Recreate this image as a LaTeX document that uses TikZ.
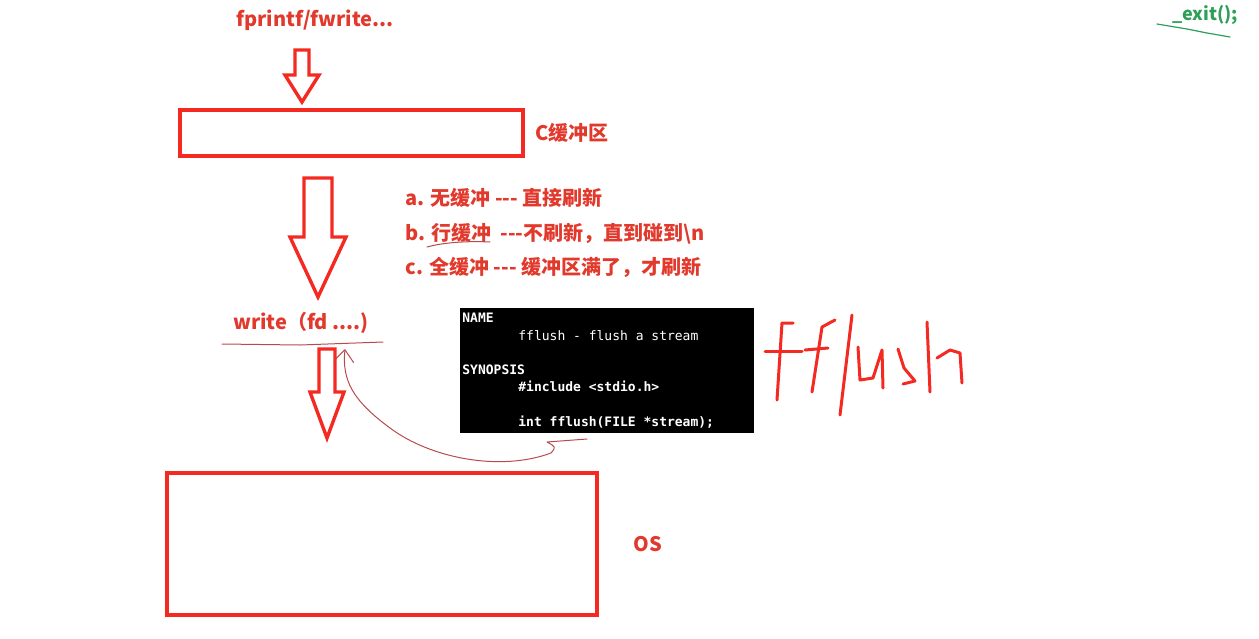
\documentclass[tikz,border=0pt]{standalone}
\usepackage{fontspec}
\setmainfont{Noto Sans CJK SC}
\newfontfamily\manfont{DejaVu Sans Mono}
\usepackage{tikz}
\usetikzlibrary{positioning,arrows.meta}
\definecolor{boxred}{HTML}{F42A22}
\definecolor{txtred}{HTML}{E2392D}
\definecolor{penred}{HTML}{B94A4C}
\definecolor{exitgreen}{HTML}{2E9F58}
\colorlet{scrawlred}{boxred}
\newcommand{\dashes}{-{}-{}-}
\tikzstyle{bufbox} = [
    draw=boxred,
    line width=2pt,
    rectangle,
    inner sep=0pt
    ]
\tikzstyle{lbl} = [
    text=txtred,
    font=\fontsize{10}{12}\selectfont\bfseries,
    inner sep=0pt
    ]
\tikzstyle{termbox} = [
    fill=black,
    rectangle,
    minimum width=147pt,
    minimum height=62.5pt,
    inner sep=0pt
    ]
\tikzstyle{termtext} = [
    text=white,
    font=\manfont\fontsize{6.5}{8.6}\selectfont,
    align=left,
    inner sep=0pt
    ]
\tikzstyle{arrowline} = [draw=boxred, line width=1.7pt, line join=miter]
\tikzstyle{pen} = [draw=penred, line width=0.5pt, line cap=round, line join=round]
\tikzstyle{scrawl} = [draw=scrawlred, line width=1.5pt, line cap=round, line join=round]
\newcommand{\hollowdown}[6]{% x, top, head start, tip, shaft half, head half
\draw[arrowline] (#1-#5,#2) -- (#1+#5,#2) -- (#1+#5,#3) -- (#1+#6,#3)
    -- (#1,#4) -- (#1-#6,#3) -- (#1-#5,#3) -- cycle;}

\begin{document}
\begin{tikzpicture}[x=0.5pt,y=-0.5pt]
\useasboundingbox (0,0) rectangle (1259,638);

\node[lbl] (fwrite) at (315,20) {fprintf/fwrite...};
\hollowdown{302}{50}{75}{102}{7}{17}

\node[bufbox, minimum width=171.5pt, minimum height=23pt] (cbuf) at (351.5,133) {};
\node[lbl, right=5pt of cbuf] (cbuflbl) {C缓冲区};

\hollowdown{318}{178}{237}{297}{14}{28}

\node[lbl, anchor=west] (modea) at (405,198) {a. 无缓冲 \dashes\ 直接刷新};
\node[lbl, anchor=west] (modeb) at (405,234) {b. 行缓冲 \ \dashes 不刷新，直到碰到\textbackslash n};
\node[lbl, anchor=west] (modec) at (405,267) {c. 全缓冲 \dashes\ 缓冲区满了，才刷新};
\draw[pen] (427,247) .. controls (445,242) and (470,241) .. (490,242);

\node[lbl] (write) at (301,323) {write（fd ....)};
\draw[pen] (222,344) -- (300,345) -- (383,342);

\hollowdown{327}{349}{392}{438}{8}{17}

\node[bufbox, minimum width=215pt, minimum height=71pt] (os) at (382,544) {};
\node[lbl, right=17pt of os] (oslbl) {OS};

% man page
\node[termbox] (man) at (607,370.5) {};
\node[termtext, anchor=north west] (mantext) at (462,313) {%
\textbf{NAME}\\
\hspace*{28pt}fflush - flush a stream\\[8.6pt]
\textbf{SYNOPSIS}\\
\hspace*{28pt}\textbf{\#include <stdio.h>}\\[8.6pt]
\hspace*{28pt}\textbf{int fflush(FILE *stream);}};

\coordinate (hookstart) at (587,439);
\coordinate (wrline) at (345,349);
\draw[pen, -{Straight Barb[length=6pt,width=10pt]}] (hookstart) -- (547,442)
    .. controls (556,447) .. (551,453)
    .. controls (500,472) and (430,458) .. (390,428)
    .. controls (352,400) and (342,380) .. (wrline);

% fflush
\draw[scrawl] (793,323) -- (782,323) -- (777,400);
\draw[scrawl] (765,351) -- (802,351);
\draw[scrawl] (835,320) -- (822,327) -- (812,392);
\draw[scrawl] (805,350) -- (828,348);
\draw[scrawl] (852,315) -- (840,415);
\draw[scrawl] (858,347) -- (860,380) -- (873,378) -- (882,350) -- (883,388);
\draw[scrawl] (898,349) -- (904,368) -- (915,381) -- (903,384);
\draw[scrawl] (927,322) -- (930,392);
\draw[scrawl] (937,358) -- (950,350) -- (960,353) -- (962,383);

\node[text=exitgreen, font=\fontsize{9}{11}\selectfont\bfseries, inner sep=0pt] (exit) at (1205,15) {\_exit();};
\draw[draw=exitgreen, line width=0.6pt, line cap=round] (1157,24) -- (1187,29) -- (1207,33) -- (1230,37);
\end{tikzpicture}
\end{document}
